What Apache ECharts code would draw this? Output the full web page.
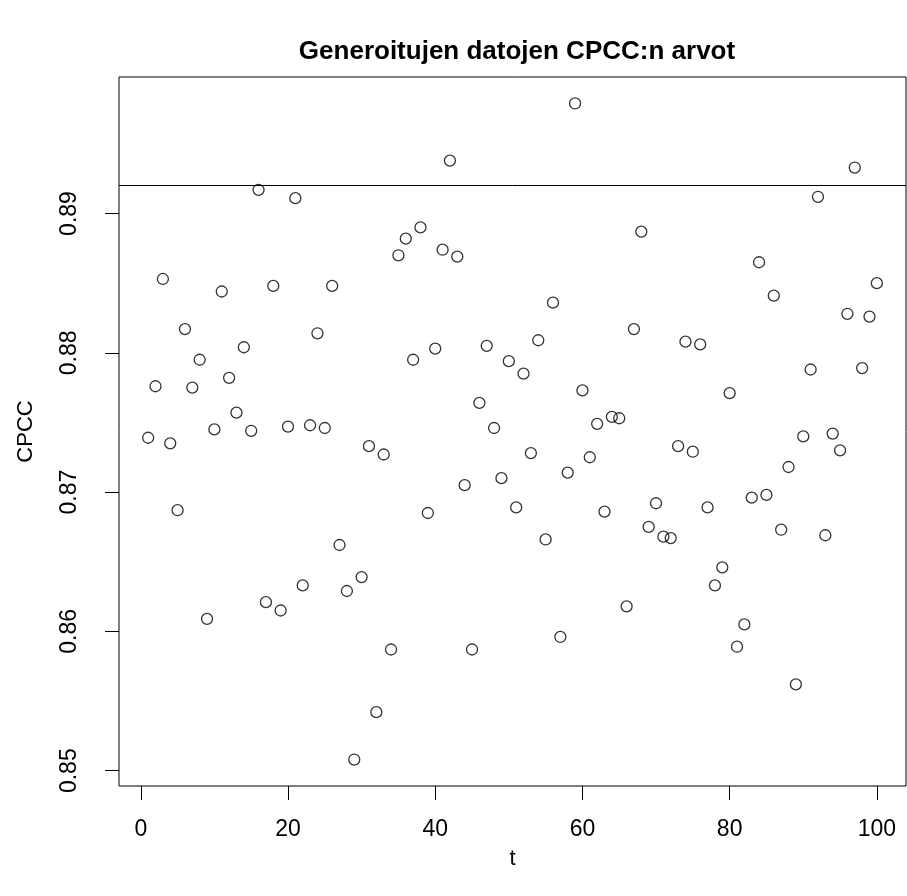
<!DOCTYPE html>
<html>
<head>
<meta charset="utf-8">
<script src="https://cdn.jsdelivr.net/npm/echarts@6/dist/echarts.min.js"></script>
<style>
  html, body { margin: 0; padding: 0; background: #fff; }
  #chart { width: 907px; height: 896px; }
</style>
</head>
<body>
<div id="chart"></div>
<script>
const t = [1, 2, 3, 4, 5, 6, 7, 8, 9, 10, 11, 12, 13, 14, 15, 16, 17, 18, 19, 20,
    21, 22, 23, 24, 25, 26, 27, 28, 29, 30, 31, 32, 33, 34, 35, 36, 37, 38, 39, 40,
    41, 42, 43, 44, 45, 46, 47, 48, 49, 50, 51, 52, 53, 54, 55, 56, 57, 58, 59, 60,
    61, 62, 63, 64, 65, 66, 67, 68, 69, 70, 71, 72, 73, 74, 75, 76, 77, 78, 79, 80,
    81, 82, 83, 84, 85, 86, 87, 88, 89, 90, 91, 92, 93, 94, 95, 96, 97, 98, 99, 100];
const cpcc = [
    0.8739, 0.8776, 0.8853, 0.8735, 0.8687, 0.8817, 0.8775, 0.8795, 0.8609, 0.8745,
    0.8844, 0.8782, 0.8757, 0.8804, 0.8744, 0.8917, 0.8621, 0.8848, 0.8615, 0.8747,
    0.8911, 0.8633, 0.8748, 0.8814, 0.8746, 0.8848, 0.8662, 0.8629, 0.8508, 0.8639,
    0.8733, 0.8542, 0.8727, 0.8587, 0.8870, 0.8882, 0.8795, 0.8890, 0.8685, 0.8803,
    0.8874, 0.8938, 0.8869, 0.8705, 0.8587, 0.8764, 0.8805, 0.8746, 0.8710, 0.8794,
    0.8689, 0.8785, 0.8728, 0.8809, 0.8666, 0.8836, 0.8596, 0.8714, 0.8979, 0.8773,
    0.8725, 0.8749, 0.8686, 0.8754, 0.8753, 0.8618, 0.8817, 0.8887, 0.8675, 0.8692,
    0.8668, 0.8667, 0.8733, 0.8808, 0.8729, 0.8806, 0.8689, 0.8633, 0.8646, 0.8771,
    0.8589, 0.8605, 0.8696, 0.8865, 0.8698, 0.8841, 0.8673, 0.8718, 0.8562, 0.8740,
    0.8788, 0.8912, 0.8669, 0.8742, 0.8730, 0.8828, 0.8933, 0.8789, 0.8826, 0.8850];
const refLine = 0.892;
const xTicks = [0, 20, 40, 60, 80, 100];
const yTicks = [0.85, 0.86, 0.87, 0.88, 0.89];

const font = 'Liberation Sans';

echarts.init(document.getElementById('chart'))
    .setOption({
        animation: false,
        textStyle: {
            fontFamily: font
        },
        title: {
            text: 'Generoitujen datojen CPCC:n arvot',
            left: 512,
            top: 34,
            textAlign: 'center',
            textStyle: {
                fontFamily: font,
                fontWeight: 'bold',
                fontSize: 26,
                color: '#000'
            }
        },
        grid: {
            left: 119,
            top: 77,
            right: 1,
            bottom: 110,
            outerBoundsMode: 'none',
            containLabel: false,
            show: true,
            borderColor: '#000',
            borderWidth: 1
        },
        xAxis: {
            type: 'value',
            min: -2.96,
            max: 103.96,
            name: 't',
            nameLocation: 'middle',
            nameGap: 62,
            nameTextStyle: {
                fontFamily: font,
                fontSize: 22,
                color: '#000'
            },
            axisLine: { show: false, onZero: false },
            splitLine: { show: false },
            axisTick: {
                customValues: xTicks,
                length: 14,
                lineStyle: { color: '#000', width: 1 }
            },
            axisLabel: {
                customValues: xTicks,
                margin: 32,
                fontFamily: font,
                fontSize: 23,
                color: '#000'
            }
        },
        yAxis: {
            type: 'value',
            min: 0.8489,
            max: 0.8998,
            name: 'CPCC',
            nameLocation: 'middle',
            nameGap: 82,
            nameRotate: 90,
            nameTextStyle: {
                fontFamily: font,
                fontSize: 22,
                color: '#000'
            },
            axisLine: { show: false, onZero: false },
            splitLine: { show: false },
            axisTick: {
                customValues: yTicks,
                length: 14,
                lineStyle: { color: '#000', width: 1 }
            },
            axisLabel: {
                customValues: yTicks,
                rotate: 90,
                margin: 38,
                fontFamily: font,
                fontSize: 23,
                color: '#000',
                formatter: value => value.toFixed(2)
            }
        },
        series: [{
            type: 'scatter',
            symbol: 'circle',
            symbolSize: 11,
            itemStyle: {
                color: 'rgba(0,0,0,0)',
                borderColor: '#000',
                borderWidth: 1.3
            },
            data: t.map((x, i) => [x, cpcc[i]]),
            markLine: {
                silent: true,
                precision: 4,
                symbol: 'none',
                label: { show: false },
                lineStyle: { color: '#000', width: 1, type: 'solid' },
                data: [{ yAxis: refLine }]
            }
        }]
    });
</script>
</body>
</html>
